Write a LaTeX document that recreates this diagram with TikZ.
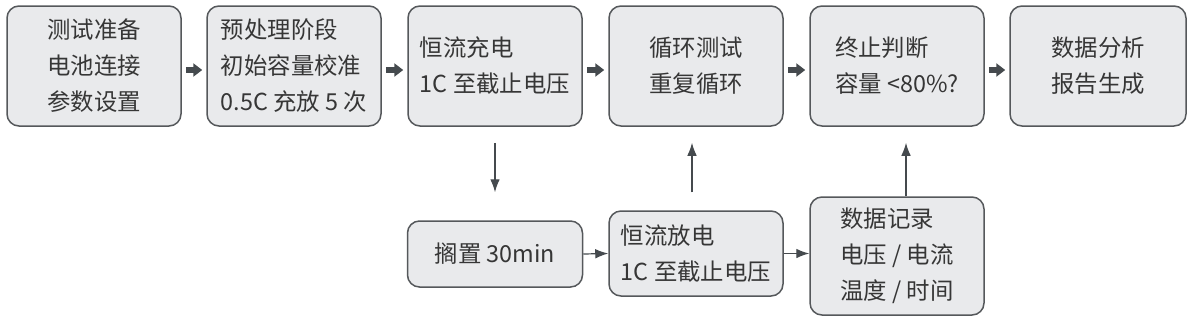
\documentclass[tikz,border=0pt]{standalone}
\usepackage{fontspec}
\setmainfont{Noto Sans CJK SC}
\usetikzlibrary{arrows.meta}
\definecolor{boxfill}{HTML}{E9EAEC}
\definecolor{edge}{HTML}{55585B}
\definecolor{ink}{HTML}{363636}
\definecolor{arrowgray}{HTML}{454A4E}
\tikzset{stage/.style={draw=edge,fill=boxfill,line width=.75pt,rounded corners=6pt,minimum width=87pt,minimum height=60pt,inner sep=0pt,align=left,text=ink,font=\fontsize{11.7}{18}\selectfont},
flow/.style={arrowgray,line width=2.6pt,-{Triangle[length=4.5pt,width=6.5pt]},shorten <=2pt,shorten >=2pt},
link/.style={arrowgray,line width=.6pt,-{Latex[length=6.5pt,width=4.8pt]}}}

\begin{document}
\begin{tikzpicture}[x=.5pt,y=-.5pt]
\fill[white] (0,0) rectangle (1192,322);\useasboundingbox (0,0) rectangle (1192,322);
\node[stage] (prep) at (94,66) {测试准备\\电池连接\\参数设置};
\node[stage] (pre) at (294,66) {预处理阶段\\初始容量校准\\0.5C 充放 5 次};
\node[stage] (charge) at (495,66) {恒流充电\\1C 至截止电压};
\node[stage] (cycle) at (696,66) {循环测试\\重复循环};
\node[stage] (judge) at (897,66) {终止判断\\容量 <80\%?};
\node[stage,minimum width=88pt] (report) at (1098,66) {数据分析\\报告生成};
\node[stage,minimum width=87.5pt,minimum height=33pt] (rest) at (495,254) {搁置 30min};
\node[stage,minimum height=42.5pt] (disc) at (696,253.5) {恒流放电\\1C 至截止电压};
\node[stage,minimum height=59pt] (rec) at (897,256) {数据记录\\电压 / 电流\\温度 / 时间};
\draw[flow] ([yshift=-2pt]prep.east) -- ([yshift=-2pt]pre.west);\draw[flow] ([yshift=-2pt]pre.east) -- ([yshift=-2pt]charge.west);
\draw[flow] ([yshift=-2pt]charge.east) -- ([yshift=-2pt]cycle.west);\draw[flow] ([yshift=-2pt]cycle.east) -- ([yshift=-2pt]judge.west);
\draw[flow] ([yshift=-2pt]judge.east) -- ([yshift=-2pt]report.west);
\draw[link,shorten <=8pt,shorten >=14pt] (charge.south) -- (rest.north);
\draw[link,shorten <=9pt,shorten >=8pt] ([xshift=-2pt]disc.north) -- ([xshift=-2pt]cycle.south);
\draw[link,shorten >=8pt] ([xshift=4.5pt]rec.north) -- ([xshift=4.5pt]judge.south);
\draw[link] (rest.east) -- (disc.west);\draw[link] (disc.east) -- (disc.east -| rec.west);
\end{tikzpicture}
\end{document}
